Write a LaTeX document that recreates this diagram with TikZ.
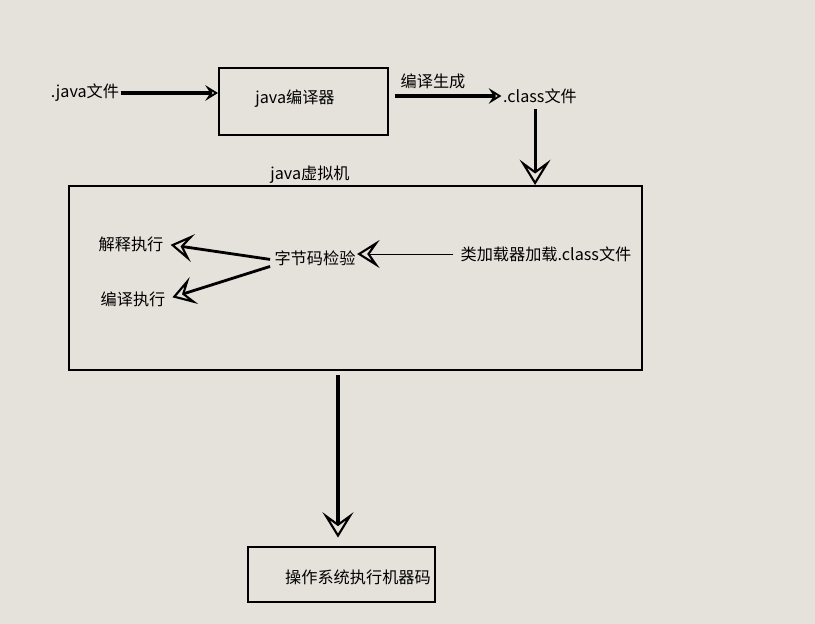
\documentclass[tikz,border=0pt]{standalone}
\usepackage{fontspec}
\setmainfont{Noto Sans CJK SC}
\usetikzlibrary{arrows.meta,positioning}
\definecolor{paper}{RGB}{229,226,219}

\begin{document}
\begin{tikzpicture}[
  x=0.025cm, y=-0.025cm,
  every node/.style={font=\fontsize{11.5}{13}\selectfont, inner sep=1pt},
  box/.style={draw, line width=1.4pt, inner sep=0pt},
  flow/.style={line width=2.2pt, -{Stealth[open, line width=1.3pt, length=9pt, width=11pt, inset=3.5pt]}},
  bigflow/.style={line width=2.2pt, -{Stealth[open, line width=1.5pt, length=18pt, width=22pt, inset=8pt]}},
  sideflow/.style={line width=2pt, -{Stealth[open, line width=1.5pt, length=16pt, width=20pt, inset=7pt]}}
]
\fill[paper] (0,0) rectangle (815,624);
\useasboundingbox (0,0) rectangle (815,624);

% boxes
\node[box, minimum width=4.225cm, minimum height=1.675cm] (javac) at (303.5,101.5) {};
\node at (295,99) {java编译器};
\node[box, minimum width=14.325cm, minimum height=4.6cm] (jvm) at (355.5,278) {};
\node at (310,175) {java虚拟机};
\node[box, minimum width=4.675cm, minimum height=1.375cm] (os) at (341.5,574.5) {};
\node at (358,577) {操作系统执行机器码};

% texts
\node (javafile) at (85,93) {.java文件};
\node (classfile) at (540,96) {.class文件};
\node (gen) at (433,81) {编译生成};
\node (loader) at (546,254) {类加载器加载.class文件};
\node (verify) at (315,258) {字节码检验};
\node (interp) at (131,244) {解释执行};
\node (compile) at (133,299) {编译执行};

% arrows
\draw[flow] (javafile.east) -- (javafile.east -| javac.west);
\draw[flow, shorten <=4pt] (javac.east |- classfile.west) -- (classfile.west);
\draw[bigflow, shorten <=3pt] ([xshift=-3.5pt]classfile.south) -- ([xshift=-3.5pt]classfile.south |- jvm.north);
\draw[sideflow, line width=0.6pt, shorten <=4pt] (loader.west) -- (loader.west -| verify.east);
\draw[sideflow, shorten >=4pt] ([xshift=-2pt, yshift=-1pt]verify.west) -- (interp.east);
\draw[sideflow, shorten >=4pt] ([xshift=-2pt, yshift=-6pt]verify.west) -- (compile.east);
\draw[bigflow, shorten <=3pt, shorten >=6pt] ([xshift=-2.5pt]jvm.south -| os.north) -- ([xshift=-2.5pt]os.north);
\end{tikzpicture}
\end{document}
